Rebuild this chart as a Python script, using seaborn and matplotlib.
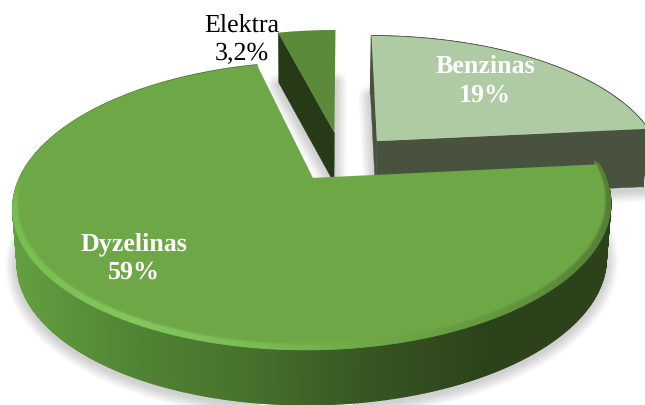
import numpy as np
import matplotlib
matplotlib.use("Agg")
import matplotlib.pyplot as plt
from matplotlib.collections import PolyCollection
from matplotlib.patches import Polygon
from matplotlib.transforms import Transform
import seaborn as sns

# Data
categories = ["Benzinas", "Dyzelinas", "Elektra"]
values = [19, 59, 3.2]
value_labels = ["19%", "59%", "3,2%"]

# Styles
top_colors = ["#AFCBA3", "#6EA846", "#5A8A3A"]
face_colors = ["#49523F", "#2B421A", "#263A18"]
explode = [0.19, 0.17, 0.21]
depths = [58, 55, 50]
side_stops = ["#63A040", "#518435", "#47702C", "#375422", "#2B421A", "#2B421A"]
rim_stops = ["#78BE50", "#84C85E", "#7CBC56", "#6EA846", "#64983F", "#567F36"]
text_colors = ["white", "white", "black"]
text_weights = ["bold", "bold", "normal"]
text_pos = [(485, 81), (134, 258), (242, 40)]

sns.set_theme(style="white")
plt.rcParams["font.family"] = ["Liberation Serif", "DejaVu Serif"]
plt.rcParams["text.hinting"] = "no_hinting"
plt.rcParams["text.hinting_factor"] = 1

# Perspective of the tilted disc, expressed in pixels of the picture
CX, CY, RX, RY, A = 341.5, 159.1, 285.5, 131.3, 0.1894
SHRINK_AT, SHRINK = 311, 0.985
GRAD_LEFT, GRAD_SPAN, GRAD_N = 12, 598, 256


def project(x, y):
    w = 1 + A * np.asarray(y)
    return CX + RX * np.asarray(x) / w, CY - RY * np.asarray(y) / w


class Tilt(Transform):
    input_dims = output_dims = 2
    has_inverse = False
    is_affine = False

    def transform_non_affine(self, values):
        v = np.asarray(values, dtype=float)
        return np.column_stack(project(v[:, 0], v[:, 1]))


def drop(px, py, depth):
    return SHRINK_AT + (np.asarray(px) - SHRINK_AT) * SHRINK, np.asarray(py) + depth


def rim(wedge, thetas, r=1.0):
    t = np.radians(thetas)
    return project(wedge.center[0] + r * np.cos(t), wedge.center[1] + r * np.sin(t))


def outline(wedge, n=160):
    px, py = rim(wedge, np.linspace(wedge.theta1, wedge.theta2, n))
    ax_, ay_ = project(*wedge.center)
    return np.r_[ax_, px], np.r_[ay_, py]


def grad_index(px):
    return np.clip(((np.asarray(px) - GRAD_LEFT) / GRAD_SPAN * (GRAD_N - 1)).astype(int), 0, GRAD_N - 1)


fig = plt.figure(figsize=(6.45, 4.05), dpi=100)
ax = fig.add_axes([0, 0, 1, 1])
wedges, _ = ax.pie(values, startangle=90, counterclock=False, explode=explode,
                   colors=top_colors, wedgeprops={"linewidth": 0})
ax.set_aspect("auto")
ax.set_xlim(0, 645)
ax.set_ylim(405, 0)
ax.axis("off")
tilt = Tilt() + ax.transData
for w in wedges:
    w.set_transform(tilt)

ib, id_, ie = 0, 1, 2

# Soft shadows
for w, d in zip(wedges, depths):
    bx, by = drop(*outline(w), d)
    for k in range(1, 7):
        ax.add_patch(Polygon(np.c_[bx, by + 3], closed=True, facecolor="none",
                             edgecolor=(0, 0, 0, 0.03), lw=k * 2.8,
                             joinstyle="round", zorder=0.5))


def extrude(w, d, n=420, stops=None, color=None, z=1):
    """Outer wall of a wedge, cut in thin vertical strips."""
    th = np.linspace(w.theta1, w.theta2, n)
    px, py = rim(w, th)
    qx, qy = drop(px, py, d)
    quads = [[(px[i], py[i]), (px[i + 1], py[i + 1]), (qx[i + 1], qy[i + 1]), (qx[i], qy[i])]
             for i in range(n - 1)]
    if stops is not None:
        fc = np.array(sns.blend_palette(stops, GRAD_N))[grad_index(px[:-1])]
    else:
        fc = np.array([matplotlib.colors.to_rgb(color)] * (n - 1))
    ax.add_collection(PolyCollection(quads, facecolors=fc, edgecolors=fc,
                                     linewidths=1.0, zorder=z))


def radial_face(w, theta, d, color, z):
    px, py = rim(w, np.array([theta]))
    ox, oy = project(*w.center)
    xs = np.r_[ox, px[0]]
    ys = np.r_[oy, py[0]]
    dx, dy = drop(xs, ys, d)
    ax.add_patch(Polygon(np.c_[np.r_[xs, dx[::-1]], np.r_[ys, dy[::-1]]], closed=True,
                         facecolor=color, edgecolor=color, lw=0.3, zorder=z))


# Benzinas: wall and radial faces, then top
extrude(wedges[ib], depths[ib], color=face_colors[ib], z=1)
radial_face(wedges[ib], wedges[ib].theta1, depths[ib], face_colors[ib], 1.1)
radial_face(wedges[ib], wedges[ib].theta2, depths[ib], face_colors[ib], 1.1)
wedges[ib].set_zorder(1.2)

# Elektra: radial face, then top
radial_face(wedges[ie], wedges[ie].theta2, depths[ie], face_colors[ie], 1.3)
wedges[ie].set_zorder(1.4)

# Dyzelinas: wall, top and bevel
extrude(wedges[id_], depths[id_], stops=side_stops, z=2)
wedges[id_].set_zorder(2.1)

w = wedges[id_]
th = np.linspace(-180, w.theta2, 400)
rim_pal = np.array(sns.blend_palette(rim_stops, GRAD_N))
top_rgb = np.array(matplotlib.colors.to_rgb(top_colors[id_]))
levels = np.linspace(0.982, 1.0, 7)
strength = [0.25, 0.65, 1.0, 1.0, 1.0, 1.0]
fade = np.clip((th[:-1] + 180) / 12, 0, 1)[:, None]
for r0, r1, s in zip(levels[:-1], levels[1:], strength):
    ox, oy = rim(w, th, r0)
    ix, iy = rim(w, th, r1)
    oy = oy - (1 - r0) / 0.018 * 3
    iy = iy - (1 - r1) / 0.018 * 3
    quads = [[(ox[i], oy[i]), (ox[i + 1], oy[i + 1]), (ix[i + 1], iy[i + 1]), (ix[i], iy[i])]
             for i in range(len(th) - 1)]
    mix = s * fade
    fc = top_rgb * (1 - mix) + rim_pal[grad_index(ox[:-1])] * mix
    ax.add_collection(PolyCollection(quads, facecolors=fc, edgecolors=fc,
                                     linewidths=0.6, zorder=2.2))

# Labels
for name, val, pos, col, wt in zip(categories, value_labels, text_pos, text_colors, text_weights):
    ax.text(pos[0], pos[1], f"{name}\n{val}", ha="center", va="center", color=col,
            fontsize=18.7, fontweight=wt, linespacing=1.27, zorder=5)

fig.savefig("out.png", dpi=100, facecolor="white")
